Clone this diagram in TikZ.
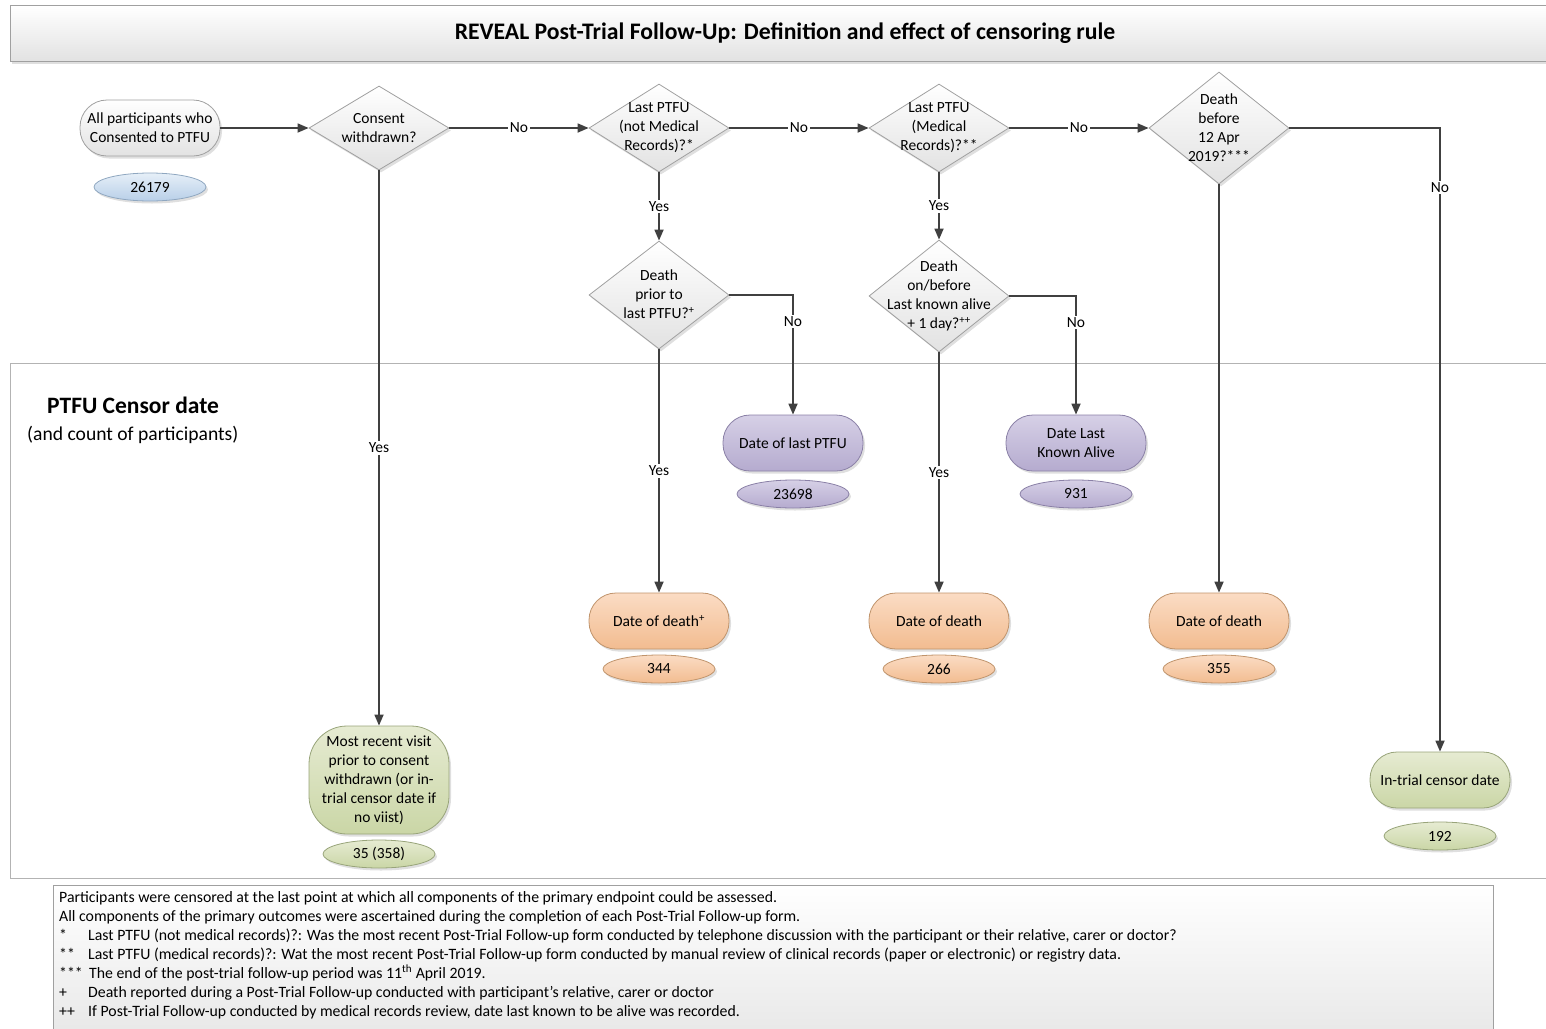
\documentclass[tikz,border=0pt]{standalone}
\usepackage{fontspec}
\setmainfont{Carlito}
\usetikzlibrary{arrows.meta,shapes.geometric,shadows}
\definecolor{ln}{HTML}{404040}
\definecolor{bdr}{HTML}{A0A0A0}
\definecolor{blueT}{HTML}{E6EFF8}\definecolor{blueB}{HTML}{B8CFE8}\definecolor{blueD}{HTML}{8FA7C0}
\definecolor{purT}{HTML}{D6D0E6}\definecolor{purB}{HTML}{B5ABCF}\definecolor{purD}{HTML}{8A80A6}
\definecolor{orT}{HTML}{FBDCC4}\definecolor{orB}{HTML}{F2BC90}\definecolor{orD}{HTML}{C0946C}
\definecolor{grT}{HTML}{E6EBD2}\definecolor{grB}{HTML}{CAD6A6}\definecolor{grD}{HTML}{98A47A}
\definecolor{gyT}{HTML}{FFFFFF}\definecolor{gyB}{HTML}{E2E2E2}
\tikzset{
  shad/.style={drop shadow={opacity=0.25, shadow xshift=2pt, shadow yshift=-2.5pt}},
  term/.style={shad, rectangle, rounded corners=27pt, minimum width=140pt, minimum height=56pt, align=center, inner sep=2pt, line width=0.8pt},
  cnt/.style={shad, ellipse, minimum width=112pt, minimum height=28pt, inner sep=0pt, line width=0.8pt},
  dia/.style={shad, diamond, minimum width=140pt, inner sep=0pt, draw=bdr, line width=0.8pt, top color=gyT, bottom color=gyB},
  diatext/.style={align=center, inner sep=0pt},
  cgray/.style={draw=bdr, top color=gyT, bottom color=gyB},
  cblue/.style={draw=blueD, top color=blueT, bottom color=blueB},
  cpur/.style={draw=purD, top color=purT, bottom color=purB},
  cor/.style={draw=orD, top color=orT, bottom color=orB},
  cgr/.style={draw=grD, top color=grT, bottom color=grB},
  flow/.style={line width=1.7pt, draw=ln, -{Triangle[length=11pt,width=9pt]}},
  lab/.style={fill=white, inner sep=1.5pt, text=black},
}
\begin{document}
\begin{tikzpicture}[x=1pt,y=-1pt, font=\fontsize{15.5}{19}\selectfont]
\useasboundingbox (0,0) rectangle (1546,1028);
\clip (0,0) rectangle (1546,1028);
% frames
\node[shad, draw=bdr, line width=0.8pt, top color=white, bottom color=gyB, rectangle, minimum width=1550pt, minimum height=56pt, anchor=north west, inner sep=0pt] (titlebar) at (10,5) {};
\node[font=\fontsize{23.7}{26}\bfseries] (title) at (785,33) {REVEAL Post-Trial Follow-Up: Definition and effect of censoring rule};
\draw[draw=bdr!80, line width=0.8pt] (1560,363) -- (10,363) -- (10,878) -- (1560,878);
\node[anchor=west, font=\fontsize{23.5}{26}\bfseries, inner sep=0pt] (ptfu) at (47,405) {PTFU Censor date};
\node[anchor=west, font=\fontsize{19.6}{22}\selectfont, inner sep=0pt] (cnttxt) at (27,435) {(and count of participants)};
% notes box
\node[draw=bdr, line width=0.8pt, top color=white, bottom color=gyB!85, rectangle, minimum width=1440pt, minimum height=160pt, anchor=north west, inner sep=0pt] (notesbox) at (53,885) {};
\node[anchor=north west, align=left, inner sep=0pt, font=\fontsize{15.8}{19}\selectfont] (notes) at (59,891) {%
Participants were censored at the last point at which all components of the primary endpoint could be assessed.\\
All components of the primary outcomes were ascertained during the completion of each Post-Trial Follow-up form.\\
\makebox[29pt][l]{*}Last PTFU (not medical records)?: Was the most recent Post-Trial Follow-up form conducted by telephone discussion with the participant or their relative, carer or doctor?\\
\makebox[29pt][l]{**}Last PTFU (medical records)?: Wat the most recent Post-Trial Follow-up form conducted by manual review of clinical records (paper or electronic) or registry data.\\
\makebox[30pt][l]{***}The end of the post-trial follow-up period was 11\textsuperscript{th} April 2019.\\
\makebox[29pt][l]{+}Death reported during a Post-Trial Follow-up conducted with participant’s relative, carer or doctor\\
\makebox[29pt][l]{++}If Post-Trial Follow-up conducted by medical records review, date last known to be alive was recorded.};
% start
\node[term, cgray] (start) at (150,128) {All participants who\\Consented to PTFU};
\node[cnt, cblue] (n0) at (150,187) {26179};
% diamonds
\node[dia, minimum height=84pt] (d1) at (379,128) {};
\node[diatext] (d1t) at (d1) {Consent\\withdrawn?};
\node[dia, minimum height=88pt] (d2) at (659,128) {};
\node[diatext] (d2t) at (d2) {Last PTFU\\(not Medical\\Records)?*};
\node[dia, minimum height=88pt] (d3) at (939,128) {};
\node[diatext] (d3t) at (d3) {Last PTFU\\(Medical\\Records)?**};
\node[dia, minimum height=112pt] (d4) at (1219,128) {};
\node[diatext] (d4t) at (d4) {Death\\before\\12 Apr\\2019?***};
\node[dia, minimum height=108pt] (d5) at (659,295) {};
\node[diatext] (d5t) at (659,294) {Death\\prior to\\last PTFU?\textsuperscript{+}};
\node[dia, minimum height=112pt] (d6) at (939,296) {};
\node[diatext] (d6t) at (d6) {Death\\on/before\\Last known alive\\+ 1 day?\textsuperscript{++}};
% outcomes
\node[term, cpur] (lastptfu) at (793,443) {Date of last PTFU};
\node[cnt, cpur] (n1) at (793,494) {23698};
\node[term, cpur] (lka) at (1076,443) {Date Last\\Known Alive};
\node[cnt, cpur] (n2) at (1076,494) {931};
\node[term, cor] (dod1) at (659,621) {Date of death\textsuperscript{+}};
\node[cnt, cor] (n3) at (659,669) {344};
\node[term, cor] (dod2) at (939,621) {Date of death};
\node[cnt, cor] (n4) at (939,669) {266};
\node[term, cor] (dod3) at (1219,621) {Date of death};
\node[cnt, cor] (n5) at (1219,669) {355};
\node[term, cgr, rounded corners=38pt, minimum height=108pt] (mrv) at (379,780) {Most recent visit\\prior to consent\\withdrawn (or in-\\trial censor date if\\no viist)};
\node[cnt, cgr] (n6) at (379,854) {35 (358)};
\node[term, cgr] (intrial) at (1440,780) {In-trial censor date};
\node[cnt, cgr] (n7) at (1440,836) {192};
% connectors
\draw[flow] (start) -- (d1);
\draw[flow] (d1) -- node[lab]{No} (d2);
\draw[flow] (d2) -- node[lab]{No} (d3);
\draw[flow] (d3) -- node[lab]{No} (d4);
\draw[flow] (d4.east) -| node[lab, pos=0.548]{No} (intrial);
\draw[flow] (d1) -- node[lab]{Yes} (mrv);
\draw[flow] (d2) -- node[lab]{Yes} (d5);
\draw[flow] (d3) -- node[lab]{Yes} (d6);
\draw[flow] (d5.east) -| node[lab, pos=0.61]{No} (lastptfu);
\draw[flow] (d5) -- node[lab]{Yes} (dod1);
\draw[flow] (d6.east) -| node[lab, pos=0.61]{No} (lka);
\draw[flow] (d6) -- node[lab]{Yes} (dod2);
\draw[flow] (d4) -- (dod3);
\end{tikzpicture}
\end{document}
